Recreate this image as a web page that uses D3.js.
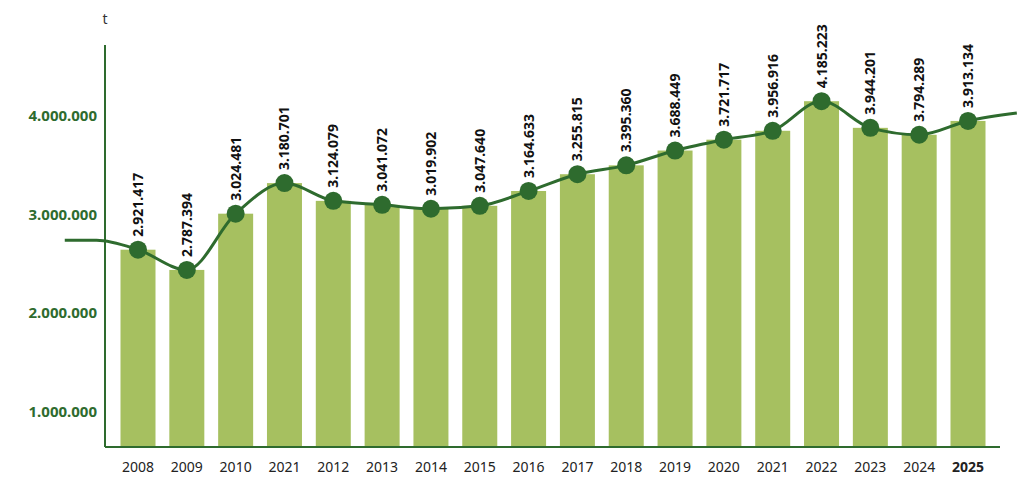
<!DOCTYPE html>
<html><head><meta charset="utf-8">
<script src="https://cdn.jsdelivr.net/npm/d3@7"></script>
<style>body{margin:0;background:#fff}text{font-family:"Noto Sans",sans-serif}</style>
</head><body><svg id="c" width="1024" height="485"></svg>
<script>
const years=["2008","2009","2010","2021","2012","2013","2014","2015","2016","2017","2018","2019","2020","2021","2022","2023","2024","2025"];
const barValues=[2645000,2440000,3010000,3320000,3140000,3100000,3060000,3090000,3240000,3410000,3500000,3650000,3760000,3850000,4150000,3880000,3810000,3950000];
const labels=["2.921.417","2.787.394","3.024.481","3.180.701","3.124.079","3.041.072","3.019.902","3.047.640","3.164.633","3.255.815","3.395.360","3.688.449","3.721.717","3.956.916","4.185.223","3.944.201","3.794.289","3.913.134"];
const lineStart=[[-1.5,2740000],[-0.85,2740000]];
const lineEnd=[[18,4030000]];
const yTicks=[1000000,2000000,3000000,4000000];
const dark="#2e6b2e",bar="#a6c060";
const svg=d3.select("#c");
const x=d3.scaleLinear().domain([0,17]).range([138,968]);
const y=d3.scaleLinear().domain([1000000,4000000]).range([412,116]);
const base=447;
svg.selectAll("rect").data(barValues).join("rect")
 .attr("x",(d,i)=>x(i)-17.5).attr("width",35).attr("y",d=>y(d)).attr("height",d=>base-y(d)).attr("fill",bar);
svg.append("line").attr("x1",105).attr("x2",105).attr("y1",45).attr("y2",base).attr("stroke",dark).attr("stroke-width",2);
svg.append("line").attr("x1",105).attr("x2",1000).attr("y1",base).attr("y2",base).attr("stroke",dark).attr("stroke-width",2);
svg.append("text").attr("x",105).attr("y",24).attr("text-anchor","middle").attr("font-size",14).attr("fill","#333").text("t");
svg.selectAll(".yt").data(yTicks).join("text").attr("x",97).attr("y",d=>y(d)+5).attr("text-anchor","end")
 .attr("font-size",15).attr("font-weight","bold").attr("fill",dark).text(d=>d3.format(",")(d).replace(/,/g,"."));
svg.selectAll(".xt").data(years).join("text").attr("x",(d,i)=>x(i)).attr("y",472).attr("text-anchor","middle")
 .attr("font-size",14).attr("font-weight",(d,i)=>i===17?"bold":"normal").attr("fill","#222").text(d=>d);
const pts=lineStart.concat(barValues.map((v,i)=>[i,v]),lineEnd);
svg.append("path").attr("d",d3.line().x(d=>x(d[0])).y(d=>y(d[1])).curve(d3.curveMonotoneX)(pts))
 .attr("fill","none").attr("stroke",dark).attr("stroke-width",3);
svg.selectAll("circle").data(barValues).join("circle").attr("cx",(d,i)=>x(i)).attr("cy",d=>y(d)).attr("r",9).attr("fill",dark);
svg.selectAll(".lb").data(labels).join("text")
 .attr("transform",(d,i)=>`translate(${x(i)+5},${y(barValues[i])-13}) rotate(-90)`)
 .attr("font-size",14).attr("font-weight","bold").attr("fill","#111").text(d=>d);
</script></body></html>
